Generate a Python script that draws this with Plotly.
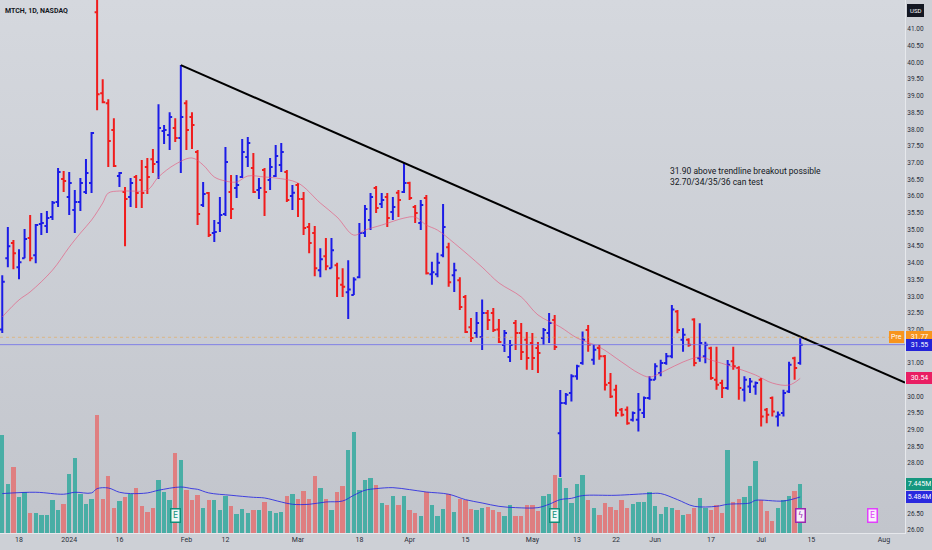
import plotly.graph_objects as go
import pandas as pd

# ---- trading calendar (NASDAQ days, Dec 13 2023 .. Aug 2024) ----
holidays = ['2023-12-25', '2024-01-01', '2024-01-15', '2024-02-19',
            '2024-03-29', '2024-05-27', '2024-06-19', '2024-07-04']
days = pd.bdate_range('2023-12-13', '2024-08-30')
days = [d for d in days if d.strftime('%Y-%m-%d') not in holidays]
day_pos = {d.strftime('%Y-%m-%d'): i for i, d in enumerate(days)}

tick_dates = ['2023-12-18', '2024-01-02', '2024-01-16', '2024-02-01', '2024-02-12',
              '2024-03-01', '2024-03-18', '2024-04-01', '2024-04-15', '2024-05-01',
              '2024-05-13', '2024-05-22', '2024-06-03', '2024-06-17', '2024-07-01',
              '2024-07-15', '2024-08-01']
tick_text = ['18', '2024', '16', 'Feb', '12', 'Mar', '18', 'Apr', '15', 'May',
             '13', '22', 'Jun', '17', 'Jul', '15', 'Aug']

# price ticks; the ones sitting under the value boxes are hidden, as on the chart
price_ticks = [41.0, 40.5, 40.0, 39.5, 39.0, 38.5, 38.0, 37.5, 37.0, 36.5, 36.0,
               35.5, 35.0, 34.5, 34.0, 33.5, 33.0, 32.5, 32.0, 31.0, 30.0, 29.5,
               29.0, 28.5, 28.0, 26.5, 26.0]

# ---- MTCH daily OHLC (first bar = Dec 13 2023) ----
opens = [32.0, 34.14, 34.59, 33.87, 34.14, 34.74, 34.23, 35.16, 35.10, 35.37,
         35.82, 36.51, 35.97, 35.58, 35.82, 36.12, 36.39, 41.5, 39.08, 38.78,
         37.98, 36.60, 36.12, 35.97, 36.57, 36.48, 36.87, 37.10, 37.02, 37.95,
         37.83, 38.04, 37.74, 38.78, 38.37, 37.32, 35.73, 36.09, 34.89, 35.19,
         35.46, 36.12, 36.24, 36.57, 37.17, 36.84, 36.18, 36.78, 36.48, 36.60,
         36.93, 36.72, 36.00, 36.33, 35.91, 35.07, 34.89, 33.78, 34.20, 33.84,
         33.93, 33.34, 33.12, 33.04, 33.57, 34.89, 35.28, 36.24, 35.76, 35.97,
         35.52, 36.10, 36.12, 36.39, 35.67, 35.19, 35.94, 33.66, 33.66, 34.23,
         34.47, 33.63, 33.48, 32.98, 32.07, 31.90, 31.78, 32.50, 32.50, 32.00,
         31.54, 31.18, 32.20, 31.90, 31.70, 31.60, 31.45, 31.75, 31.90, 32.29,
         28.90, 29.80, 30.10, 30.60, 31.00, 31.99, 31.10, 31.45, 31.20, 30.40,
         30.20, 29.60, 29.60, 29.30, 29.30, 29.50, 29.95, 30.50, 30.70, 31.00,
         31.20, 32.54, 31.70, 31.70, 32.30, 31.14, 31.20, 31.44, 30.50, 30.40,
         30.25, 31.05, 30.85, 30.20, 30.30, 30.30, 30.50, 29.60, 29.95, 29.40,
         29.50, 30.15, 31.14, 31.00]
highs = [33.63, 35.07, 34.68, 34.41, 35.01, 35.43, 35.16, 35.49, 35.55, 35.85,
         36.84, 36.75, 36.72, 36.18, 36.54, 37.11, 37.92, 42.3, 39.50, 38.90,
         38.33, 36.72, 36.27, 36.54, 36.63, 37.08, 37.14, 37.41, 38.75, 38.13,
         38.51, 38.33, 39.92, 38.87, 38.51, 37.38, 36.42, 36.12, 35.28, 35.97,
         37.47, 36.63, 36.63, 37.71, 37.77, 37.29, 36.54, 36.84, 37.14, 37.53,
         37.59, 36.78, 36.33, 36.39, 36.12, 35.19, 35.10, 34.44, 34.74, 34.74,
         34.00, 33.84, 34.08, 33.57, 35.19, 35.73, 36.09, 36.30, 36.09, 36.09,
         35.97, 36.18, 36.99, 36.43, 35.73, 35.88, 36.03, 34.03, 34.30, 35.76,
         34.60, 34.00, 33.57, 33.04, 32.35, 32.53, 32.90, 32.59, 32.65, 32.32,
         31.99, 31.69, 32.29, 32.20, 31.93, 31.90, 31.63, 32.05, 32.50, 32.44,
         30.19, 30.10, 30.66, 30.95, 31.94, 32.14, 31.55, 31.55, 31.24, 30.70,
         30.35, 29.65, 29.70, 29.55, 30.10, 30.00, 30.60, 30.99, 31.10, 31.30,
         32.74, 32.59, 32.04, 31.74, 32.34, 32.19, 31.64, 31.49, 31.49, 30.50,
         31.09, 31.49, 30.90, 30.60, 30.55, 30.45, 30.55, 29.65, 30.00, 29.55,
         30.20, 31.04, 31.19, 31.74]
lows = [31.90, 33.87, 33.81, 33.51, 34.14, 34.05, 33.99, 34.83, 34.89, 35.28,
        35.67, 36.12, 35.43, 34.89, 35.55, 36.06, 36.09, 38.57, 38.78, 36.87,
        36.87, 36.27, 34.50, 35.67, 35.64, 35.64, 36.06, 36.69, 36.51, 37.56,
        37.38, 37.62, 36.69, 37.38, 37.41, 35.13, 35.67, 34.77, 34.62, 34.92,
        35.40, 35.31, 35.94, 36.54, 36.87, 36.09, 35.91, 35.40, 36.18, 36.57,
        36.72, 35.82, 35.58, 35.37, 34.83, 34.29, 33.60, 33.57, 33.78, 33.84,
        32.98, 32.98, 32.32, 33.04, 33.54, 34.77, 34.98, 35.49, 35.64, 35.07,
        35.28, 35.37, 36.09, 35.88, 35.19, 34.98, 33.65, 33.34, 33.57, 34.17,
        33.28, 33.13, 32.59, 31.90, 31.63, 31.75, 31.39, 31.99, 31.93, 31.60,
        31.33, 31.03, 31.39, 31.09, 30.80, 30.79, 30.70, 31.54, 31.60, 31.39,
        27.59, 29.75, 29.85, 30.50, 30.95, 31.34, 30.95, 31.10, 30.18, 29.95,
        29.40, 29.40, 29.15, 29.25, 28.95, 29.35, 29.90, 30.50, 30.60, 30.95,
        31.14, 31.89, 31.34, 31.49, 30.90, 31.04, 30.99, 30.50, 30.20, 29.95,
        30.20, 30.80, 29.90, 29.85, 30.10, 30.05, 29.10, 29.20, 29.40, 29.10,
        29.40, 30.10, 30.50, 30.95]
closes = [33.43, 34.50, 34.29, 34.02, 34.71, 34.14, 35.13, 35.19, 35.34, 35.80,
          36.72, 36.45, 36.39, 35.82, 36.39, 36.69, 37.89, 39.05, 38.81, 37.65,
          36.90, 36.69, 35.91, 36.39, 36.09, 36.09, 36.57, 36.96, 38.04, 37.98,
          38.37, 37.74, 38.37, 37.98, 38.13, 35.46, 36.06, 34.83, 34.92, 35.43,
          37.02, 35.61, 36.33, 37.32, 37.59, 36.12, 36.24, 36.12, 36.87, 37.20,
          37.32, 35.88, 36.10, 35.91, 35.04, 34.59, 33.84, 34.11, 33.90, 34.38,
          33.54, 33.28, 33.20, 33.50, 34.89, 35.61, 35.97, 35.64, 35.88, 35.34,
          35.67, 35.88, 36.39, 35.94, 35.49, 35.73, 33.69, 33.72, 34.00, 35.07,
          33.42, 33.78, 32.68, 31.93, 31.75, 32.20, 32.50, 32.29, 31.99, 31.63,
          31.90, 31.54, 31.90, 31.33, 31.15, 31.15, 31.30, 31.99, 32.20, 31.48,
          29.80, 30.05, 30.60, 30.90, 31.70, 31.55, 31.40, 31.20, 30.35, 30.00,
          29.50, 29.45, 29.20, 29.50, 29.60, 29.95, 30.50, 30.90, 31.00, 31.20,
          32.60, 31.99, 31.85, 31.55, 31.00, 31.60, 31.55, 30.55, 30.35, 30.25,
          30.95, 30.90, 30.25, 30.50, 30.45, 30.40, 29.40, 29.45, 29.55, 29.45,
          30.10, 30.95, 30.85, 31.55]
# volume, millions
volumes = [14.9, 7.4, 10.05, 5.5, 6.3, 3.0, 3.0, 2.8, 2.7, 5.0,
           3.45, 4.37, 9.0, 11.4, 6.0, 4.47, 5.2, 17.9, 5.2, 8.6,
           3.86, 4.87, 5.5, 6.0, 6.85, 4.06, 3.2, 3.8, 8.0, 6.2,
           5.0, 12.2, 11.1, 6.5, 5.0, 5.84, 3.86, 5.0, 5.0, 3.45,
           5.7, 4.06, 2.84, 3.6, 3.05, 3.55, 3.45, 4.72, 3.35, 3.05,
           3.2, 5.63, 6.0, 5.18, 6.4, 5.2, 8.7, 6.9, 5.2, 3.45,
           6.2, 7.16, 12.7, 15.3, 6.5, 8.0, 8.4, 7.26, 4.57, 4.2,
           5.58, 4.2, 5.58, 3.55, 3.05, 2.54, 6.24, 4.3, 2.54, 3.7,
           6.0, 3.2, 5.2, 5.0, 3.7, 3.55, 3.8, 3.96, 3.45, 3.2,
           2.54, 4.3, 2.54, 2.54, 4.3, 4.3, 3.3, 5.63, 5.9, 8.9,
           8.4, 6.85, 4.57, 7.4, 8.9, 5.0, 3.8, 2.8, 4.6, 3.96,
           3.45, 5.0, 3.8, 4.37, 4.77, 4.72, 6.24, 4.1, 2.84, 3.96,
           3.8, 3.45, 2.8, 2.95, 3.86, 5.4, 3.8, 3.45, 4.26, 3.05,
           12.6, 4.72, 5.18, 5.5, 7.1, 10.9, 5.0, 3.35, 1.83, 3.8,
           5.08, 5.58, 6.4, 7.445]

# moving average of price (pink), read at bar positions
ma_pos = [0, 3, 5, 9, 12, 14, 16, 18, 19, 21, 23, 26, 28, 31, 34, 36, 38, 40, 42,
          44, 47, 49, 53, 57, 60, 63, 65, 68, 72, 74, 76, 78, 81, 86, 89, 93, 96,
          100, 103, 107, 111, 114, 116, 119, 122, 125, 127, 131, 135, 138, 141, 143]
ma_val = [32.38, 32.89, 33.13, 33.78, 34.47, 34.89, 35.28, 35.79, 36.09, 36.15,
          36.15, 36.18, 36.57, 36.95, 37.14, 36.93, 36.57, 36.45, 36.42, 36.60,
          36.57, 36.54, 36.39, 35.79, 35.37, 34.83, 34.98, 35.13, 35.34, 35.37,
          35.13, 34.98, 34.59, 33.87, 33.40, 32.98, 32.44, 32.08, 31.75, 31.48,
          31.03, 30.70, 30.58, 30.79, 31.03, 31.18, 31.09, 30.88, 30.64, 30.40,
          30.34, 30.54]

# moving average of volume (blue), millions
vma_pos = [0, 6, 11, 13, 16, 17, 19, 21, 23, 26, 28, 32, 34, 35, 37, 41, 45, 47,
           50, 52, 55, 58, 61, 63, 65, 67, 70, 73, 76, 80, 83, 86, 89, 92, 96, 98,
           100, 102, 104, 110, 116, 118, 121, 124, 128, 130, 134, 135, 140, 143]
vma_val = [6.0, 6.2, 5.9, 6.2, 6.1, 6.75, 6.85, 6.2, 6.0, 6.1, 6.5, 7.0, 6.75,
           6.65, 6.1, 5.74, 5.43, 5.33, 4.72, 4.37, 4.37, 4.72, 4.87, 5.74, 6.5,
           6.75, 6.9, 6.6, 6.24, 5.9, 5.08, 4.57, 4.06, 3.86, 3.86, 4.37, 5.08,
           5.28, 5.69, 5.74, 6.0, 6.0, 5.08, 4.06, 4.06, 4.37, 4.57, 4.97, 4.87,
           5.484]

# trendline drawn from the Feb 1 high through the Apr 1 high, extended right
trend_pos = [32, 72]
trend_val = [39.92, 36.99]

last_price = 31.55
pre_price = 31.77
ma_last = 30.54
vol_last = 7.445
vma_last = 5.484

UP = '#1c1ce6'
DOWN = '#f01c1c'

X_RANGE = [-0.405, 161.78]
P_RANGE = [25.91, 41.87]
V_RANGE = [0, 81.1]

bar_x = list(range(len(opens)))
vol_colors = ['rgba(38,166,154,0.78)' if c >= o else 'rgba(239,83,80,0.62)'
              for o, c in zip(opens, closes)]

fig = go.Figure()

# background gradient on the base axis, so everything else sits above it
fig.add_trace(go.Scatter(
    x=[X_RANGE[0], X_RANGE[1], X_RANGE[1], X_RANGE[0], X_RANGE[0]],
    y=[0, 0, 1, 1, 0],
    fill='toself', mode='lines', line=dict(width=0),
    fillgradient=dict(type='vertical',
                      colorscale=[[0, '#c2c5cc'], [1, '#d5d8de']]),
    hoverinfo='skip', showlegend=False, yaxis='y'))

# volume pane (y2)
fig.add_trace(go.Bar(x=bar_x, y=volumes, marker=dict(color=vol_colors, line=dict(width=0)),
                     width=0.78, yaxis='y2', showlegend=False))
fig.add_trace(go.Scatter(x=vma_pos, y=vma_val, mode='lines', yaxis='y2',
                         line=dict(color='rgba(40,40,225,0.85)', width=1, shape='spline'),
                         showlegend=False))

# price pane (y3)
fig.add_trace(go.Scatter(x=ma_pos, y=ma_val, mode='lines', yaxis='y3',
                         line=dict(color='rgba(232,80,120,0.6)', width=1, shape='spline'),
                         showlegend=False))
fig.add_trace(go.Ohlc(x=bar_x, open=opens, high=highs, low=lows, close=closes,
                      yaxis='y3', tickwidth=0.45,
                      increasing=dict(line=dict(color=UP, width=2)),
                      decreasing=dict(line=dict(color=DOWN, width=2)),
                      showlegend=False))

slope = (trend_val[1] - trend_val[0]) / (trend_pos[1] - trend_pos[0])
trend_end = trend_val[0] + slope * (X_RANGE[1] - trend_pos[0])
fig.add_shape(type='line', xref='x', yref='y3', x0=trend_pos[0], y0=trend_val[0],
              x1=X_RANGE[1], y1=trend_end, line=dict(color='#000000', width=2))
fig.add_shape(type='line', xref='paper', yref='y3', x0=0, x1=1, y0=pre_price, y1=pre_price,
              line=dict(color='rgba(245,160,40,0.45)', width=1, dash='dot'))
fig.add_shape(type='line', xref='paper', yref='y3', x0=0, x1=1, y0=last_price, y1=last_price,
              line=dict(color='rgba(110,110,235,0.8)', width=1))

lbl_font = dict(family='Roboto, sans-serif', size=7, color='#ffffff')


def axis_label(text, y, yref, bg):
    fig.add_annotation(x=1, xref='paper', xanchor='left', xshift=1, y=y, yref=yref,
                       text=text, showarrow=False, font=lbl_font, bgcolor=bg,
                       bordercolor=bg, borderpad=1, width=23)


axis_label('%.2f' % pre_price, pre_price, 'y3', '#f7941d')
fig.add_annotation(x=1, xref='paper', xanchor='right', xshift=-1, y=pre_price, yref='y3',
                   text='Pre', showarrow=False, font=lbl_font, bgcolor='#f7941d',
                   bordercolor='#f7941d', borderpad=1)
axis_label('%.2f' % last_price, last_price, 'y3', '#2424d8')
axis_label('%.2f' % ma_last, ma_last, 'y3', '#e91e63')
axis_label('%.3fM' % vol_last, vol_last, 'y2', '#15977f')
axis_label('%.3fM' % vma_last, vma_last, 'y2', '#2929de')

fig.add_annotation(x=1, xref='paper', xanchor='left', xshift=2, y=1, yref='paper',
                   yanchor='top', yshift=-4, text='USD', showarrow=False,
                   font=dict(family='Roboto, sans-serif', size=6, color='#ffffff'),
                   bgcolor='#131722', bordercolor='#131722', borderpad=2)

fig.add_annotation(x=0, xref='paper', xanchor='left', xshift=3, y=1, yref='paper',
                   yanchor='top', yshift=-5, text='<b>MTCH, 1D, NASDAQ</b>', showarrow=False,
                   font=dict(family='Roboto, sans-serif', size=7, color='#131722'))

fig.add_annotation(x=119.3, xref='x', xanchor='left', y=36.6, yref='y3',
                   text='31.90 above trendline breakout possible<br>32.70/34/35/36 can test',
                   align='left', showarrow=False,
                   font=dict(family='Roboto, sans-serif', size=8.5, color='#131722'))

# event markers along the bottom
events = [(31, 'E', '#11907a', '#eef7f5'), (99, 'E', '#11907a', '#eef7f5'),
          (143, 'ϟ', '#9c27b0', '#f7eefa'), (156, 'E', '#e040fb', '#fbeefd')]
for ex, etext, ecol, ebg in events:
    fig.add_annotation(x=ex, xref='x', y=0.018, yref='paper', text=etext, showarrow=False,
                       font=dict(family='DejaVu Sans, sans-serif', size=8, color=ecol),
                       bgcolor=ebg, bordercolor=ecol, borderwidth=1.5, borderpad=1.5)

fig.update_layout(
    width=932, height=550, template='none',
    margin=dict(l=0, r=27, t=0, b=17),
    paper_bgcolor='#cdd0d6', plot_bgcolor='#cdd0d6',
    showlegend=False, bargap=0,
    xaxis=dict(range=X_RANGE, rangeslider=dict(visible=False), showgrid=False,
               zeroline=False, tickvals=[day_pos[d] for d in tick_dates], ticktext=tick_text,
               tickfont=dict(family='Roboto, sans-serif', size=7, color='#2a2e39'),
               ticks='', showline=True, linecolor='#e6e8ec', linewidth=1, automargin=False),
    yaxis=dict(range=[0, 1], visible=False, fixedrange=True),
    yaxis2=dict(range=V_RANGE, overlaying='y', visible=False),
    yaxis3=dict(range=P_RANGE, overlaying='y', side='right', showgrid=False, zeroline=False,
                tickvals=price_ticks, tickformat='.2f', ticks='',
                tickfont=dict(family='Roboto, sans-serif', size=6.5, color='#2a2e39'),
                showline=True, linecolor='#e6e8ec', linewidth=1, automargin=False),
)

# page without the default body margin, so the chart fills the window
fig.write_html('out.html', config={'displayModeBar': False},
               post_script="document.body.style.margin='0px';")
